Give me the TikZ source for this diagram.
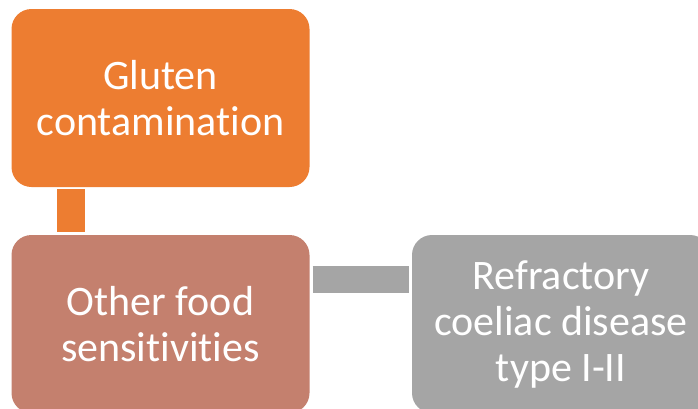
\documentclass[tikz,border=0pt]{standalone}
\usepackage{fontspec}
\setmainfont{Carlito}[Ligatures={NoCommon}]
\usetikzlibrary{calc}
\definecolor{cOrange}{HTML}{ED7D31}
\definecolor{cBrown}{HTML}{C4806E}
\definecolor{cGray}{HTML}{A5A5A5}
\tikzset{
  boxnode/.style={minimum width=298pt, minimum height=178pt, rounded corners=20pt,
    text=white, align=center, inner sep=0pt, font=\fontsize{42}{46}\selectfont},
  connbar/.style={line width=#1}
}
\begin{document}
\begin{tikzpicture}[x=1pt,y=-1pt]
\clip (0,0) rectangle (698,408);
\node[boxnode, fill=cOrange] (a) at (160.5,98) {Gluten\\contamination};
\node[boxnode, fill=cBrown] (b) at (160.5,324) {Other food\\sensitivities};
\node[boxnode, fill=cGray] (c) at (561,324) {Refractory\\coeliac disease\\type I-II};
\draw[cOrange, connbar=28pt] ($(a.south west)+(59.5,2)$) -- ($(b.north west)+(59.5,-3)$);
\draw[cGray, connbar=27pt] ($(b.north east)+(3,44.5)$) -- ($(c.north west)+(-3,44.5)$);
\end{tikzpicture}
\end{document}
